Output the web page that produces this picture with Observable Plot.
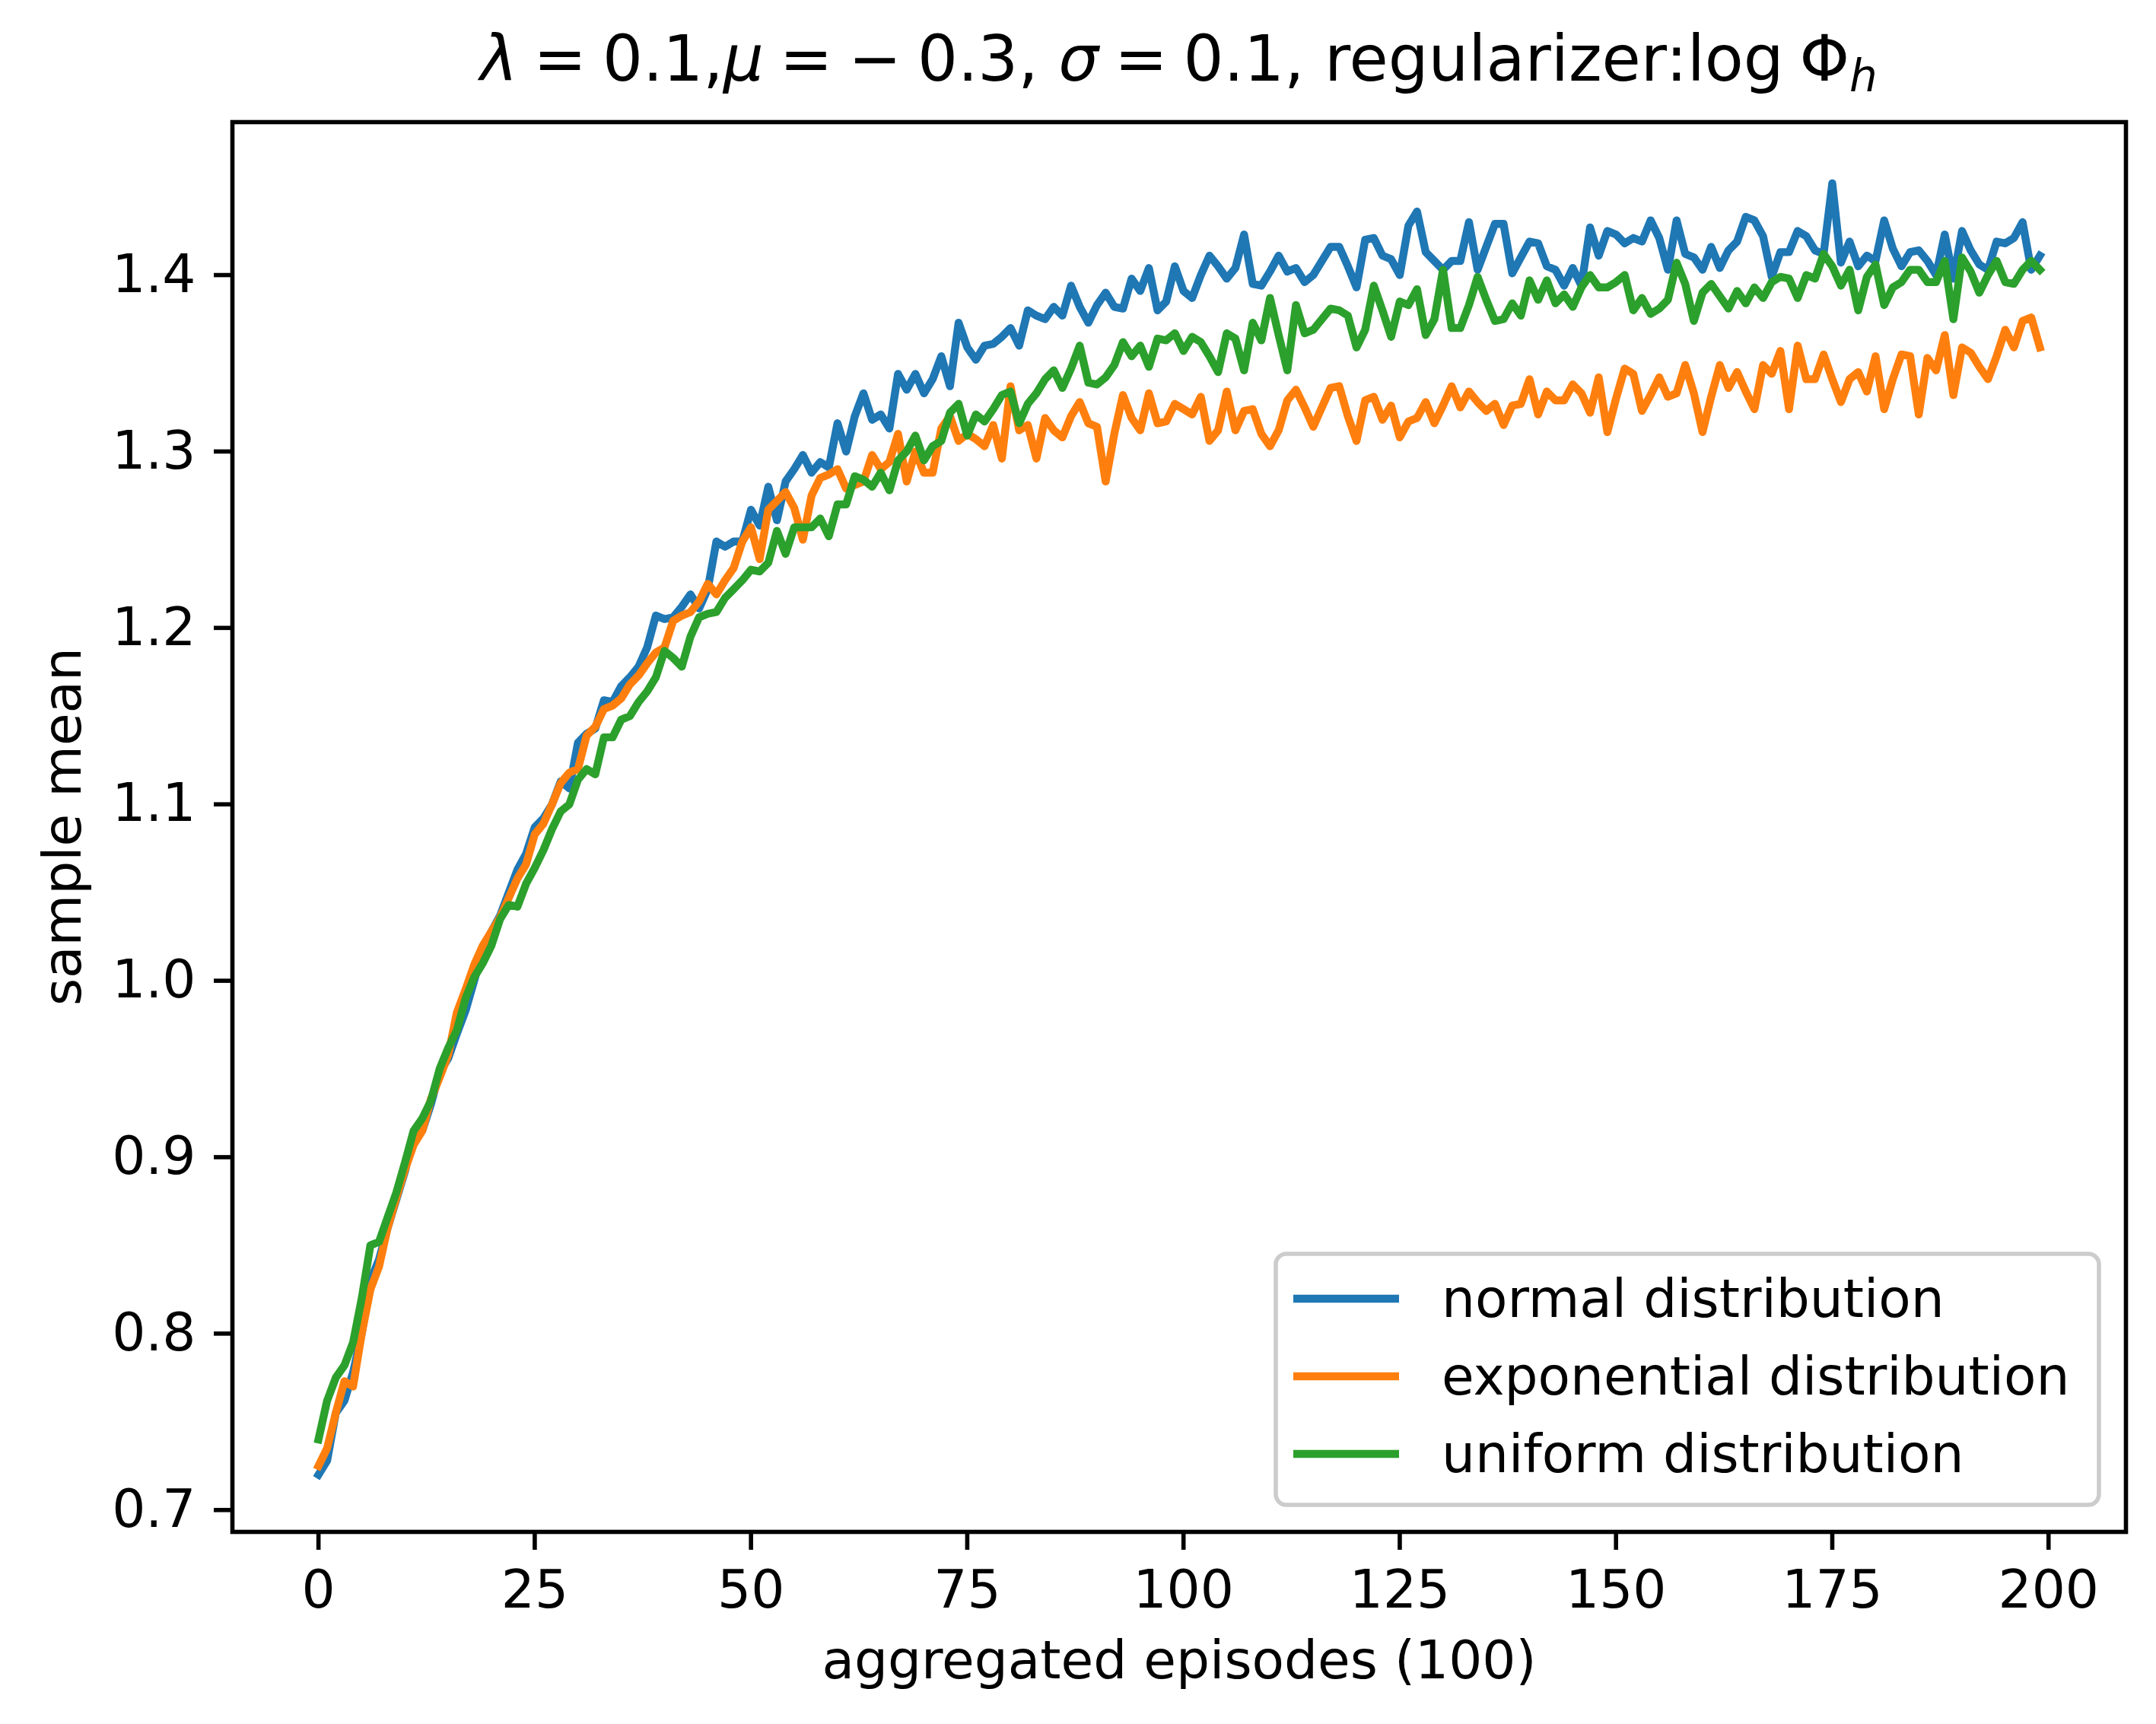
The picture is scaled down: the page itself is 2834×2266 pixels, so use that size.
<!DOCTYPE html>
<html>
<head>
<meta charset="utf-8">
<script src="https://cdn.jsdelivr.net/npm/d3@7"></script>
<script src="https://cdn.jsdelivr.net/npm/@observablehq/plot@0.6"></script>
<style>
  html, body { margin: 0; padding: 0; background: #ffffff; }
  #chart { width: 2834px; height: 2266px; }
</style>
</head>
<body>
<div id="chart"></div>
<script>
// ---------------- data ----------------
const seriesNames = ["normal distribution", "exponential distribution", "uniform distribution"];
const seriesColors = ["#1f77b4", "#ff7f0e", "#2ca02c"];

const normal = [
  0.720,0.728,0.755,0.762,0.778,0.800,0.830,0.842,0.860,0.876,
  0.892,0.912,0.915,0.930,0.948,0.956,0.970,0.983,1.000,1.018,
  1.028,1.037,1.050,1.063,1.072,1.087,1.092,1.100,1.113,1.109,
  1.135,1.140,1.143,1.159,1.158,1.167,1.172,1.178,1.189,1.207,
  1.205,1.206,1.212,1.219,1.211,1.222,1.249,1.246,1.249,1.249,
  1.267,1.258,1.280,1.261,1.283,1.290,1.298,1.288,1.294,1.291,
  1.316,1.300,1.320,1.333,1.318,1.321,1.313,1.344,1.335,1.344,
  1.333,1.341,1.354,1.337,1.373,1.359,1.352,1.360,1.361,1.365,
  1.370,1.360,1.380,1.377,1.375,1.382,1.377,1.394,1.382,1.373,
  1.383,1.390,1.382,1.381,1.398,1.391,1.404,1.380,1.385,1.405,
  1.391,1.387,1.400,1.411,1.405,1.398,1.404,1.423,1.395,1.394,
  1.402,1.411,1.402,1.404,1.396,1.400,1.408,1.416,1.416,1.405,
  1.393,1.420,1.421,1.411,1.409,1.400,1.428,1.436,1.413,1.408,
  1.403,1.408,1.408,1.430,1.403,1.416,1.429,1.429,1.401,1.410,
  1.419,1.418,1.405,1.403,1.394,1.404,1.394,1.427,1.411,1.425,
  1.423,1.418,1.421,1.419,1.431,1.421,1.403,1.431,1.412,1.410,
  1.403,1.416,1.404,1.414,1.419,1.433,1.431,1.422,1.399,1.413,
  1.413,1.425,1.422,1.414,1.412,1.452,1.407,1.419,1.405,1.411,
  1.408,1.431,1.415,1.405,1.413,1.414,1.408,1.400,1.423,1.398,
  1.425,1.414,1.406,1.403,1.419,1.418,1.421,1.430,1.403,1.411
];

const exponential = [
  0.725,0.735,0.755,0.773,0.770,0.800,0.825,0.838,0.860,0.877,
  0.893,0.907,0.915,0.933,0.945,0.958,0.982,0.995,1.009,1.020,
  1.028,1.036,1.047,1.058,1.066,1.083,1.089,1.100,1.112,1.118,
  1.120,1.139,1.144,1.154,1.156,1.160,1.168,1.173,1.180,1.186,
  1.189,1.204,1.207,1.209,1.215,1.225,1.219,1.227,1.234,1.249,
  1.257,1.239,1.267,1.272,1.277,1.268,1.250,1.275,1.285,1.287,
  1.290,1.279,1.281,1.283,1.298,1.290,1.294,1.310,1.283,1.300,
  1.288,1.288,1.313,1.320,1.306,1.310,1.307,1.303,1.315,1.296,
  1.337,1.312,1.315,1.296,1.319,1.312,1.308,1.320,1.328,1.316,
  1.314,1.283,1.310,1.332,1.319,1.312,1.333,1.316,1.317,1.327,
  1.324,1.321,1.331,1.306,1.312,1.334,1.312,1.323,1.324,1.310,
  1.303,1.312,1.329,1.335,1.325,1.314,1.325,1.336,1.337,1.320,
  1.306,1.329,1.331,1.318,1.326,1.308,1.317,1.319,1.328,1.316,
  1.326,1.337,1.325,1.334,1.328,1.323,1.327,1.315,1.326,1.327,
  1.341,1.321,1.334,1.329,1.329,1.338,1.333,1.322,1.342,1.311,
  1.330,1.347,1.344,1.323,1.332,1.342,1.331,1.333,1.349,1.333,
  1.311,1.331,1.349,1.336,1.345,1.334,1.324,1.349,1.344,1.357,
  1.324,1.360,1.341,1.341,1.355,1.341,1.328,1.341,1.345,1.334,
  1.354,1.324,1.341,1.355,1.354,1.321,1.353,1.346,1.366,1.332,
  1.359,1.356,1.348,1.341,1.354,1.369,1.359,1.374,1.376,1.359
];

const uniform = [
  0.740,0.762,0.775,0.782,0.795,0.820,0.850,0.852,0.866,0.880,
  0.897,0.915,0.922,0.932,0.950,0.962,0.972,0.990,1.002,1.010,
  1.020,1.035,1.043,1.042,1.055,1.064,1.074,1.086,1.096,1.100,
  1.114,1.120,1.117,1.138,1.138,1.148,1.150,1.158,1.164,1.172,
  1.187,1.183,1.178,1.195,1.206,1.208,1.209,1.217,1.222,1.227,
  1.233,1.232,1.237,1.255,1.242,1.257,1.257,1.257,1.262,1.252,
  1.270,1.270,1.286,1.284,1.280,1.288,1.278,1.295,1.300,1.309,
  1.295,1.303,1.306,1.322,1.327,1.309,1.321,1.317,1.324,1.332,
  1.334,1.316,1.327,1.333,1.341,1.346,1.336,1.347,1.360,1.339,
  1.338,1.342,1.349,1.362,1.354,1.360,1.348,1.364,1.363,1.367,
  1.357,1.365,1.362,1.354,1.345,1.367,1.364,1.346,1.373,1.363,
  1.387,1.366,1.346,1.383,1.367,1.369,1.375,1.381,1.380,1.377,
  1.359,1.369,1.394,1.380,1.365,1.385,1.383,1.392,1.366,1.375,
  1.403,1.370,1.370,1.383,1.399,1.386,1.374,1.375,1.384,1.377,
  1.397,1.386,1.397,1.384,1.389,1.382,1.393,1.400,1.393,1.393,
  1.396,1.400,1.380,1.387,1.378,1.381,1.386,1.407,1.395,1.374,
  1.390,1.395,1.388,1.381,1.391,1.384,1.393,1.387,1.396,1.399,
  1.398,1.387,1.400,1.398,1.412,1.405,1.394,1.403,1.380,1.399,
  1.406,1.383,1.393,1.396,1.403,1.403,1.396,1.396,1.408,1.375,
  1.410,1.402,1.390,1.400,1.408,1.396,1.395,1.403,1.408,1.403
];

const xTicks = [0, 25, 50, 75, 100, 125, 150, 175, 200];
const yTicks = [0.7, 0.8, 0.9, 1.0, 1.1, 1.2, 1.3, 1.4];
const xLabel = "aggregated episodes (100)";
const yLabel = "sample mean";
const titleParts = [
  {t: "λ", it: true}, {t: "\u2005=\u20050.1,"}, {t: "μ", it: true}, {t: "\u2005=\u2005−\u20050.3, "},
  {t: "σ", it: true}, {t: "\u2005=\u20050.1, regularizer:log\u2005Φ"}, {t: "h", it: true, sub: true}
];

// ---------------- table ----------------
const seriesValues = [normal, exponential, uniform];
const rows = seriesValues.flatMap((vals, s) =>
  vals.map((v, i) => ({episode: i, value: v, series: seriesNames[s]})));

// ---------------- plot ----------------
const W = 2834, H = 2266;
const FS = 69.4;      // 10pt at 500 dpi
const LW = 10.4;      // 1.5pt
const AW = 5.6;       // 0.8pt
const frameL = 305, frameR = W - 40, frameT = 160, frameB = H - 253;

const chart = Plot.plot({
  width: W,
  height: H,
  marginLeft: frameL,
  marginRight: W - frameR,
  marginTop: frameT,
  marginBottom: H - frameB,
  style: {fontFamily: "DejaVu Sans", fontSize: FS + "px", background: "#ffffff", color: "#000000", overflow: "visible"},
  x: {domain: [-9.95, 208.95], axis: null},
  y: {domain: [0.6876, 1.4867], axis: null},
  color: {domain: seriesNames, range: seriesColors},
  marks: [
    Plot.line(rows, {x: "episode", y: "value", z: "series", stroke: "series",
      strokeWidth: LW, strokeLinejoin: "round", strokeLinecap: "square"}),
    Plot.frame({stroke: "#000000", strokeWidth: AW}),
    Plot.axisX({ticks: xTicks, tickSize: 24, tickPadding: 26, strokeWidth: AW,
      fontSize: FS, label: null, tickFormat: d3.format("d")}),
    Plot.axisY({ticks: yTicks, tickSize: 24, tickPadding: 24, strokeWidth: AW,
      fontSize: FS, label: null, tickFormat: d3.format(".1f")}),
    Plot.text([xLabel], {frameAnchor: "bottom", dy: 192, text: d => d, fontSize: FS, fill: "#000000"})
  ]
});

document.getElementById("chart").appendChild(chart);
const svg = d3.select(chart);

// ---------------- y label ----------------
svg.append("text")
  .attr("transform", `translate(82,${(frameT + frameB) / 2}) rotate(-90)`)
  .attr("text-anchor", "middle")
  .attr("dominant-baseline", "central")
  .attr("font-family", "DejaVu Sans")
  .attr("font-size", FS)
  .attr("fill", "#000000")
  .text(yLabel);

// ---------------- title (mathtext-like) ----------------
const title = svg.append("text")
  .attr("x", (frameL + frameR) / 2)
  .attr("y", 106)
  .attr("text-anchor", "middle")
  .attr("font-family", "DejaVu Sans")
  .attr("font-size", 83.3)
  .attr("fill", "#000000");
titleParts.forEach(p => {
  const ts = title.append("tspan").text(p.t);
  if (p.it) ts.attr("font-style", "italic");
  if (p.sub) ts.attr("font-size", 58).attr("dy", 14);
});

// ---------------- legend (inside axes, lower right) ----------------
const leg = svg.append("g");
const boxL = 1677, boxT = 1648, boxR = 2759, boxB = 1978;
leg.append("rect")
  .attr("x", boxL).attr("y", boxT)
  .attr("width", boxR - boxL).attr("height", boxB - boxT)
  .attr("rx", 14).attr("ry", 14)
  .attr("fill", "#ffffff").attr("fill-opacity", 0.8)
  .attr("stroke", "#cccccc").attr("stroke-width", AW);
const rowY = [1707, 1809, 1911];
seriesNames.forEach((name, i) => {
  leg.append("line")
    .attr("x1", 1700).attr("x2", 1839)
    .attr("y1", rowY[i]).attr("y2", rowY[i])
    .attr("stroke", seriesColors[i]).attr("stroke-width", LW);
  leg.append("text")
    .attr("x", 1895).attr("y", rowY[i])
    .attr("text-anchor", "start")
    .attr("dominant-baseline", "central")
    .attr("font-family", "DejaVu Sans")
    .attr("font-size", FS)
    .attr("fill", "#000000")
    .text(name);
});
</script>
</body>
</html>
